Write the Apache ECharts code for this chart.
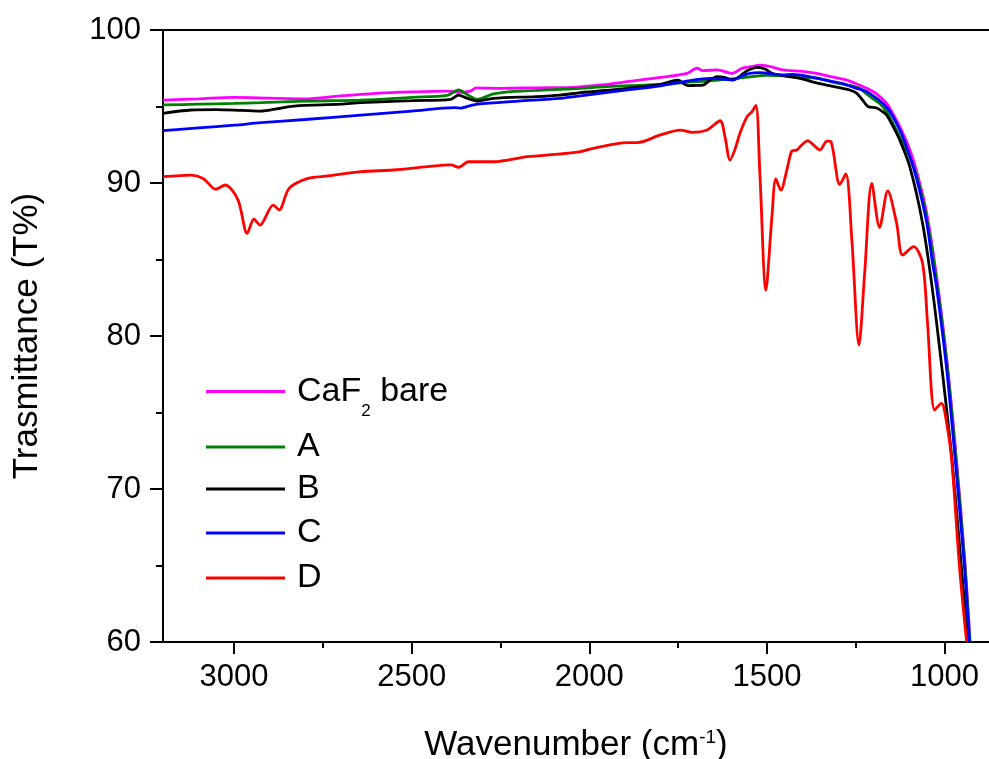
<!DOCTYPE html>
<html>
<head>
<meta charset="utf-8">
<script src="https://cdn.jsdelivr.net/npm/echarts@6/dist/echarts.min.js"></script>
<style>html,body{margin:0;padding:0;background:#fff}#c{width:989px;height:759px}</style>
</head>
<body>
<div id="c"></div>
<script>
const seriesNames = ['CaF2 bare', 'A', 'B', 'C', 'D'];
const xMajorTicks = [1000, 1500, 2000, 2500, 3000];
const xMinorTicks = [1250, 1750, 2250, 2750];

const bareSpectrum = [[3200,95.42],[3100,95.5],[3000,95.6],[2900,95.55],[2800,95.5],[2700,95.7],[2600,95.86],[2500,95.95],[2400,96.0],[2360,95.93],[2335,96.0],[2318,96.22],[2250,96.19],[2150,96.22],[2050,96.25],[1950,96.45],[1893,96.62],[1800,96.9],[1725,97.17],[1697,97.5],[1680,97.34],[1640,97.4],[1598,97.17],[1570,97.5],[1545,97.6],[1520,97.71],[1490,97.6],[1455,97.39],[1400,97.3],[1360,97.17],[1320,96.95],[1275,96.73],[1250,96.5],[1219,96.19],[1190,95.8],[1163,95.21],[1140,94.3],[1126,93.68],[1100,92.3],[1079,90.8],[1051,88.1],[1022,83.8],[994,78.5],[970,72.8],[944,65.6],[928,60]];

const sampleA = [[3200,95.1],[3100,95.15],[3000,95.2],[2924,95.25],[2800,95.35],[2643,95.42],[2500,95.6],[2400,95.72],[2368,96.08],[2345,95.8],[2315,95.47],[2290,95.65],[2270,95.82],[2222,95.97],[2100,96.1],[2025,96.19],[1950,96.3],[1800,96.45],[1700,96.62],[1613,96.77],[1560,96.9],[1500,97.04],[1450,97.0],[1407,96.9],[1360,96.85],[1315,96.6],[1260,96.35],[1239,96.2],[1219,95.8],[1183,95.2],[1163,94.66],[1126,93.0],[1100,91.8],[1079,90.5],[1051,87.8],[1022,83.5],[994,78.3],[970,72.5],[944,65.4],[929,60]];

const sampleB = [[3200,94.55],[3121,94.77],[3050,94.8],[2980,94.75],[2924,94.7],[2880,94.85],[2831,95.03],[2700,95.15],[2643,95.25],[2500,95.38],[2390,95.47],[2368,95.75],[2345,95.55],[2315,95.36],[2270,95.53],[2150,95.65],[2081,95.75],[2025,95.9],[1893,96.19],[1800,96.45],[1750,96.73],[1735,96.5],[1722,96.36],[1700,96.38],[1680,96.4],[1660,96.73],[1641,96.95],[1620,96.9],[1596,96.75],[1575,97.0],[1556,97.34],[1525,97.56],[1505,97.45],[1486,97.17],[1450,97.0],[1407,96.84],[1370,96.6],[1332,96.4],[1290,96.2],[1267,96.08],[1247,95.86],[1230,95.4],[1216,95.0],[1191,94.9],[1174,94.66],[1163,94.44],[1135,93.25],[1126,92.8],[1098,91.07],[1062,87.37],[1034,83.0],[1006,77.6],[980,72.1],[955,65.5],[934,60]];

const sampleC = [[3200,93.42],[3100,93.6],[3000,93.78],[2924,93.94],[2800,94.15],[2643,94.44],[2500,94.7],[2380,94.92],[2362,94.9],[2340,95.02],[2315,95.16],[2200,95.35],[2081,95.53],[2025,95.69],[1893,96.08],[1800,96.35],[1708,96.73],[1660,96.84],[1630,96.8],[1596,96.73],[1570,97.0],[1548,97.17],[1520,97.21],[1455,97.06],[1427,97.1],[1370,96.9],[1315,96.62],[1287,96.5],[1250,96.2],[1219,95.97],[1163,94.95],[1126,93.46],[1100,91.9],[1079,90.3],[1051,87.5],[1034,84.8],[1022,83.1],[994,77.8],[970,71.9],[944,64.9],[930,60]];

const sampleD = [[3200,90.41],[3121,90.52],[3087,90.3],[3051,89.59],[3025,89.87],[2989,88.9],[2963,86.71],[2944,87.64],[2927,87.25],[2890,88.56],[2873,88.24],[2845,89.65],[2792,90.3],[2736,90.46],[2643,90.74],[2551,90.85],[2455,91.07],[2390,91.18],[2368,91.03],[2340,91.39],[2270,91.39],[2174,91.72],[2081,91.9],[2025,92.05],[1989,92.27],[1893,92.64],[1865,92.64],[1800,93.14],[1744,93.46],[1711,93.31],[1669,93.46],[1632,94.07],[1618,93.0],[1604,91.5],[1590,92.2],[1576,93.25],[1556,94.34],[1542,94.66],[1531,95.08],[1520,90.65],[1503,83.0],[1486,87.8],[1475,90.26],[1461,89.54],[1444,90.85],[1430,92.09],[1416,92.16],[1402,92.48],[1385,92.77],[1371,92.53],[1351,92.16],[1331,92.74],[1320,92.7],[1295,89.91],[1278,90.59],[1261,86.27],[1241,79.41],[1225,84.1],[1205,89.98],[1183,87.1],[1160,89.48],[1135,87.37],[1118,85.29],[1087,85.84],[1062,84.75],[1048,80.83],[1028,75.16],[1009,75.6],[994,74.3],[980,71.9],[958,64.9],[938,60]];

const spectra = [bareSpectrum, sampleA, sampleB, sampleC, sampleD];
const colors = ['#FF00FF', '#008000', '#000000', '#0000FF', '#FF0000'];

const FONT = 'Liberation Sans, Arial, Helvetica, sans-serif';
const chart = echarts.init(document.getElementById('c'), null, {renderer: 'canvas'});

const X_MIN = 875, X_MAX = 3200;
const axisLineStyle = {color: '#000', width: 2};

const legendTops = [363, 430, 472, 516, 561];
const legends = seriesNames.map((n, i) => ({
  data: [n],
  left: 206,
  top: legendTops[i],
  orient: 'vertical',
  padding: 0,
  icon: 'rect',
  itemWidth: 79,
  itemHeight: 3,
  selectedMode: false,
  formatter: (name) => name === 'CaF2 bare' ? 'CaF{sub|2} bare' : name,
  textStyle: {
    fontFamily: FONT, fontSize: 34, color: '#000', padding: [0, 0, 0, 7],
    rich: {sub: {fontFamily: FONT, fontSize: 17, lineHeight: 17, padding: [40, 0, 0, 0], color: '#000'}}
  }
}));

const option = {
  animation: false,
  backgroundColor: '#fff',
  grid: {left: 163, top: 30, right: 0, bottom: 117, containLabel: false, outerBoundsMode: 'none'},
  legend: legends,
  xAxis: [
    {
      type: 'value', inverse: true, min: X_MIN, max: X_MAX, position: 'bottom',
      axisLine: {show: true, lineStyle: axisLineStyle},
      axisTick: {show: true, customValues: xMajorTicks, length: 12, inside: false, lineStyle: axisLineStyle},
      axisLabel: {show: true, customValues: xMajorTicks, formatter: (v) => String(v), fontFamily: FONT, fontSize: 31, color: '#000', margin: 20},
      splitLine: {show: false},
      name: 'Wavenumber (cm{sup|-1})',
      nameLocation: 'middle', nameGap: 86,
      nameTextStyle: {fontFamily: FONT, fontSize: 35, color: '#000',
        rich: {sup: {fontFamily: FONT, fontSize: 19, lineHeight: 19, padding: [0, 0, 15, 0], color: '#000'}}}
    },
    {
      type: 'value', inverse: true, min: X_MIN, max: X_MAX, position: 'bottom',
      axisLine: {show: false},
      axisTick: {show: true, customValues: xMinorTicks, length: 6, inside: false, lineStyle: axisLineStyle},
      axisLabel: {show: false},
      splitLine: {show: false}
    },
    {
      type: 'value', inverse: true, min: X_MIN, max: X_MAX, position: 'top',
      axisLine: {show: true, lineStyle: axisLineStyle},
      axisTick: {show: false},
      axisLabel: {show: false},
      splitLine: {show: false}
    }
  ],
  yAxis: {
    type: 'value', min: 60, max: 100, interval: 10, position: 'left',
    axisLine: {show: true, lineStyle: axisLineStyle},
    axisTick: {show: true, length: 13, inside: false, lineStyle: axisLineStyle},
    minorTick: {show: true, splitNumber: 2, length: 7, lineStyle: axisLineStyle},
    axisLabel: {fontFamily: FONT, fontSize: 31, color: '#000', margin: 22},
    splitLine: {show: false},
    minorSplitLine: {show: false},
    name: 'Trasmittance (T%)',
    nameLocation: 'middle', nameGap: 118,
    nameTextStyle: {fontFamily: FONT, fontSize: 35, color: '#000'}
  },
  series: spectra.map((d, i) => ({
    name: seriesNames[i],
    type: 'line',
    xAxisIndex: 0,
    data: d,
    showSymbol: false,
    symbol: 'none',
    smooth: 0.3,
    clip: true,
    color: colors[i],
    lineStyle: {color: colors[i], width: 2.8},
    z: 2 + i
  }))
};
chart.setOption(option);
</script>
</body>
</html>
